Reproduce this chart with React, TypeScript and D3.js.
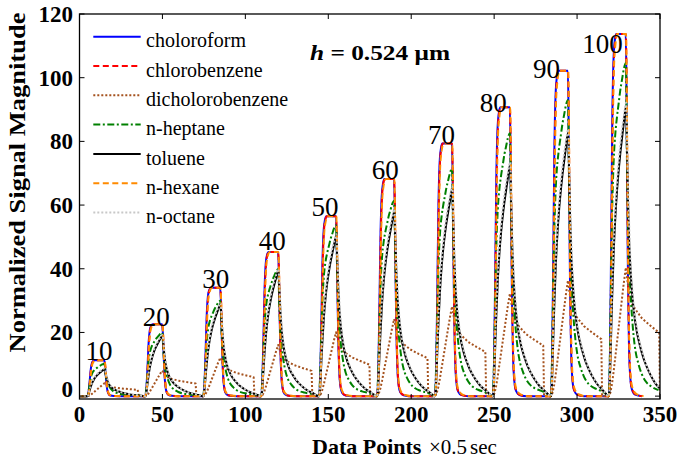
import React from 'react';
import * as d3 from 'd3';

const W = 678;
const H = 465;
const FONT = '"Liberation Serif", "Times New Roman", Times, serif';

// axes
const xTicks = [0, 50, 100, 150, 200, 250, 300, 350];
const yTicks = [0, 20, 40, 60, 80, 100, 120];

// pulse timing and amplitude
const pulseStarts = [4.7, 39.6, 74.6, 109.5, 144.4, 179.4, 214.3, 249.2, 284.2, 319.1];
const pulsePeaks = [11.3, 22.6, 34.0, 45.3, 56.5, 68.2, 79.3, 90.7, 102.2, 113.7];

// pulse annotations
const pulseLabels = ['10', '20', '30', '40', '50', '60', '70', '80', '90', '100'];
const labelX = [11.8, 46.2, 82.1, 116.2, 148, 184.4, 218.2, 249.5, 281.5, 315.3];
const labelY = [11.3, 21.9, 33.8, 45.8, 56.7, 68.3, 79.3, 89.1, 100, 107.8];

// response profiles: [offset from pulse start, fraction of that series' peak]
const chloroformProfile: [number, number][] = [
  [0, 0], [0.7, 0.1], [1.4, 0.4], [2.1, 0.75], [2.8, 0.92], [3.6, 0.98], [4.5, 1.0],
  [10.2, 1.0], [10.6, 0.9], [11.1, 0.6], [11.6, 0.32], [12.2, 0.14], [13, 0.05],
  [14, 0.018], [16, 0.004], [20, 0], [34.5, 0],
];
const chlorobenzeneProfile: [number, number][] = [
  [0, 0], [0.8, 0.08], [1.5, 0.38], [2.2, 0.72], [2.9, 0.9], [3.8, 0.98], [4.8, 1.0],
  [10.3, 1.0], [10.7, 0.9], [11.2, 0.6], [11.7, 0.32], [12.3, 0.14], [13.1, 0.05],
  [14, 0.02], [16, 0.005], [20, 0], [34.5, 0],
];
const dichlorobenzeneProfile: [number, number][] = [
  [0, 0], [1, 0.01], [2, 0.035], [3, 0.07], [4, 0.11], [5, 0.15], [6, 0.19], [7, 0.23],
  [8, 0.27], [9, 0.31], [10.3, 0.355], [11.5, 0.31], [12.5, 0.28], [14, 0.255],
  [16, 0.24], [20, 0.215], [25, 0.195], [30.4, 0.175], [30.9, 0],
];
const heptaneProfile: [number, number][] = [
  [0, 0], [0.6, 0.1], [1.3, 0.32], [2, 0.54], [3, 0.71], [4, 0.79], [5, 0.84], [6, 0.88],
  [7, 0.92], [8, 0.95], [9, 0.98], [10.3, 1.0], [11, 0.7], [11.6, 0.5], [12.2, 0.4],
  [13, 0.32], [14, 0.24], [15, 0.18], [16, 0.14], [18, 0.095], [20, 0.065], [23, 0.04],
  [26, 0.028], [30, 0.018], [33, 0.008], [34.5, 0],
];
const tolueneProfile: [number, number][] = [
  [0, 0], [0.5, 0.02], [1, 0.12], [2, 0.33], [3, 0.5], [4, 0.62], [5, 0.71], [6, 0.78],
  [7, 0.84], [8, 0.89], [9, 0.94], [10.4, 1.0], [11, 0.85], [11.6, 0.68], [12.2, 0.55],
  [13, 0.45], [14, 0.36], [15, 0.3], [17, 0.22], [19, 0.17], [21, 0.13], [23, 0.1],
  [25, 0.075], [28, 0.045], [31, 0.025], [33, 0.01], [34.5, 0],
];
const hexaneProfile: [number, number][] = [
  [0, 0], [1, 0.1], [1.7, 0.4], [2.4, 0.72], [3.1, 0.9], [4, 0.97], [5.2, 1.0],
  [10.4, 1.0], [10.8, 0.88], [11.3, 0.58], [11.8, 0.3], [12.5, 0.13], [13.3, 0.05],
  [14.5, 0.02], [17, 0.005], [21, 0], [34.5, 0],
];
const octaneProfile: [number, number][] = [
  [0, 0], [0.5, 0.03], [1, 0.14], [2, 0.36], [3, 0.52], [4, 0.64], [5, 0.73], [6, 0.8],
  [7, 0.86], [8, 0.91], [9, 0.95], [10.5, 1.0], [11.1, 0.86], [11.7, 0.7], [12.4, 0.57],
  [13.1, 0.46], [14, 0.38], [15, 0.31], [17, 0.23], [19, 0.175], [21, 0.135], [23, 0.1],
  [25, 0.077], [28, 0.047], [31, 0.026], [33, 0.01], [34.5, 0],
];

// peak of each series relative to the pulse amplitude, per pulse
const chloroformRatio = [1, 1, 1, 1, 1, 1, 1, 1, 1, 1];
const chlorobenzeneRatio = [1, 1, 1, 1, 1, 1, 1, 1, 1, 1];
const dichlorobenzeneRatio = [1, 1, 1, 1, 1, 1, 1, 1, 1, 1];
const heptaneRatio = [0.9, 0.88, 0.88, 0.88, 0.95, 0.9, 0.9, 0.91, 0.91, 0.92];
const tolueneRatio = [0.75, 0.84, 0.85, 0.87, 0.89, 0.85, 0.82, 0.8, 0.81, 0.8];
const hexaneRatio = [1, 1, 1, 1, 1, 1, 1, 1, 1, 1];
const octaneRatio = [0.77, 0.85, 0.86, 0.88, 0.9, 0.86, 0.83, 0.81, 0.82, 0.81];

const seriesNames = ['choloroform', 'chlorobenzene', 'dicholorobenzene', 'n-heptane', 'toluene', 'n-hexane', 'n-octane'];
const seriesColors = ['#0000FF', '#FF0000', '#A5521E', '#008000', '#000000', '#FF8A00', '#C8C8C8'];
const seriesDashes = ['none', '6,3.5', '2,2', '7,2.5,2,2.5', 'none', '6,3.5', '2,2'];
const seriesProfiles = [chloroformProfile, chlorobenzeneProfile, dichlorobenzeneProfile, heptaneProfile, tolueneProfile, hexaneProfile, octaneProfile];
const seriesRatios = [chloroformRatio, chlorobenzeneRatio, dichlorobenzeneRatio, heptaneRatio, tolueneRatio, hexaneRatio, octaneRatio];
const seriesLinear = [false, false, true, false, false, false, false];

function buildSeries(profile: [number, number][], ratio: number[]): [number, number][] {
  const pts: [number, number][] = [[0, 0]];
  pulseStarts.forEach((s, i) => {
    const amp = pulsePeaks[i] * ratio[i];
    profile.forEach(([o, f]) => {
      const x = s + o;
      if (x <= 352) pts.push([x, f * amp]);
    });
  });
  return pts;
}

export default function App() {
  const left = 79.5, right = 660, top = 14, bottom = 399;
  const x = d3.scaleLinear().domain([0, 350]).range([left, right]);
  const y = d3.scaleLinear().domain([-0.9, 120]).range([bottom, top]);

  const lines = seriesProfiles.map((p, i) => {
    const gen = d3.line<[number, number]>()
      .x(d => x(d[0]))
      .y(d => y(d[1]))
      .curve(seriesLinear[i] ? d3.curveLinear : d3.curveMonotoneX);
    return gen(buildSeries(p, seriesRatios[i])) || '';
  });

  const tickLen = 5;

  return (
    <svg width={W} height={H} style={{ position: 'absolute', left: 0, top: 0, background: '#fff' }}
      fontFamily={FONT}>
      <defs>
        <clipPath id="plotClip">
          <rect x={left} y={top} width={right - left} height={bottom - top} />
        </clipPath>
      </defs>
      <rect x={0} y={0} width={W} height={H} fill="#fff" />

      <g clipPath="url(#plotClip)">
        {lines.map((d, i) => (
          <path key={i} d={d} fill="none" stroke={seriesColors[i]} strokeWidth={2}
            strokeDasharray={seriesDashes[i] === 'none' ? undefined : seriesDashes[i]}
            strokeLinejoin="round" />
        ))}
      </g>

      {/* axes box */}
      <rect x={left} y={top} width={right - left} height={bottom - top} fill="none" stroke="#000" strokeWidth={1.3} />
      {xTicks.map(t => (
        <g key={'xt' + t}>
          <line x1={x(t)} x2={x(t)} y1={bottom} y2={bottom - tickLen} stroke="#000" strokeWidth={1} />
          <line x1={x(t)} x2={x(t)} y1={top} y2={top + tickLen} stroke="#000" strokeWidth={1} />
          <text x={x(t)} y={422} textAnchor="middle" fontSize={23} fontWeight="bold">{t}</text>
        </g>
      ))}
      {yTicks.map(t => (
        <g key={'yt' + t}>
          <line x1={left} x2={left + tickLen} y1={y(t)} y2={y(t)} stroke="#000" strokeWidth={1} />
          <line x1={right} x2={right - tickLen} y1={y(t)} y2={y(t)} stroke="#000" strokeWidth={1} />
          <text x={73} y={y(t) + (t === 0 ? -7 : 0)} dy="0.35em" textAnchor="end" fontSize={23} fontWeight="bold">{t}</text>
        </g>
      ))}

      {/* pulse labels */}
      {pulseLabels.map((l, i) => (
        <text key={'pl' + i} x={x(labelX[i])} y={y(labelY[i])} textAnchor="middle" fontSize={27}>{l}</text>
      ))}

      {/* annotation */}
      <text x={310} y={60} fontSize={22} fontWeight="bold" textLength={140} lengthAdjust="spacingAndGlyphs">
        <tspan fontStyle="italic">h</tspan> = 0.524 μm
      </text>

      {/* legend */}
      {seriesNames.map((n, i) => {
        const ly = 36.7 + i * 29.3;
        return (
          <g key={'lg' + i}>
            <line x1={93.3} x2={140.7} y1={ly} y2={ly} stroke={seriesColors[i]} strokeWidth={2}
              strokeDasharray={seriesDashes[i] === 'none' ? undefined : seriesDashes[i]} />
            <text x={146} y={ly + 10.6} fontSize={20}>{n}</text>
          </g>
        );
      })}

      {/* axis titles */}
      <text transform="translate(25,182.5) rotate(-90)" textAnchor="middle" fontSize={24} fontWeight="bold"
        textLength={340} lengthAdjust="spacingAndGlyphs">Normalized Signal Magnitude</text>
      <text x={312} y={454} fontSize={22} fontWeight="bold">Data Points</text>
      <text x={429} y={454} fontSize={21}>×0.5<tspan dx={3}>sec</tspan></text>
    </svg>
  );
}
